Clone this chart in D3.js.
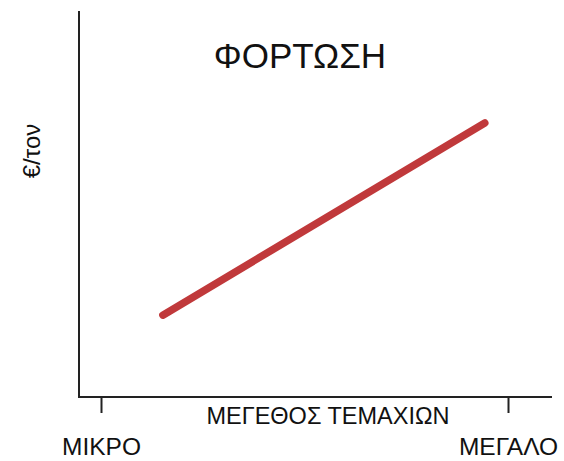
<!DOCTYPE html>
<html><head><meta charset="utf-8">
<script src="https://cdn.jsdelivr.net/npm/d3@7"></script>
<style>body{margin:0;background:#fff}svg{display:block}text{font-family:"Liberation Sans",Arial,sans-serif;fill:#111}</style>
</head><body>
<script>
const categories = ["ΜΙΚΡΟ", "ΜΕΓΑΛΟ"];
const categoryPos = [0, 1];
const lineX = [0.152, 0.943];
const lineY = [0.212, 0.71];
const title = "ΦΟΡΤΩΣΗ";
const xTitle = "ΜΕΓΕΘΟΣ ΤΕΜΑΧΙΩΝ";
const yTitle = "€/τον";

const W = 564, H = 461;
const svg = d3.select("body").append("svg").attr("width", W).attr("height", H);

const x = d3.scaleLinear().domain([0, 1]).range([101, 508]);
const y = d3.scaleLinear().domain([0, 1]).range([397, 11]);

svg.append("line").attr("x1", 79).attr("x2", 79).attr("y1", y(1)).attr("y2", y(0))
  .attr("stroke", "#222").attr("stroke-width", 2);
svg.append("line").attr("x1", 78).attr("x2", 552).attr("y1", y(0)).attr("y2", y(0))
  .attr("stroke", "#222").attr("stroke-width", 2);

const xAxis = d3.axisBottom(x).tickValues(categoryPos).tickSize(16).tickFormat(d => categories[d]);
const gx = svg.append("g").attr("transform", `translate(0,${y(0)})`).call(xAxis);
gx.select(".domain").remove();
gx.selectAll(".tick line").attr("stroke", "#222").attr("stroke-width", 2);
gx.selectAll(".tick text").attr("y", 0).attr("dy", 0).attr("transform", "translate(0,58)")
  .style("font-size", "24.5px").attr("fill", "#111").style("font-family", "'Liberation Sans',Arial,sans-serif");

svg.append("text").attr("x", 328).attr("y", 424).attr("text-anchor", "middle")
  .style("font-size", "23.5px").text(xTitle);

svg.append("text").attr("x", 300).attr("y", 68).attr("text-anchor", "middle")
  .style("font-size", "35px").text(title);

svg.append("text").attr("transform", "translate(40,151) rotate(-90)").attr("text-anchor", "middle")
  .style("font-size", "24px").text(yTitle);

const data = lineX.map((v, i) => [v, lineY[i]]);
svg.append("path").datum(data)
  .attr("d", d3.line().x(d => x(d[0])).y(d => y(d[1])))
  .attr("fill", "none").attr("stroke", "#c0393b").attr("stroke-width", 7.5).attr("stroke-linecap", "round");
</script>
</body></html>
